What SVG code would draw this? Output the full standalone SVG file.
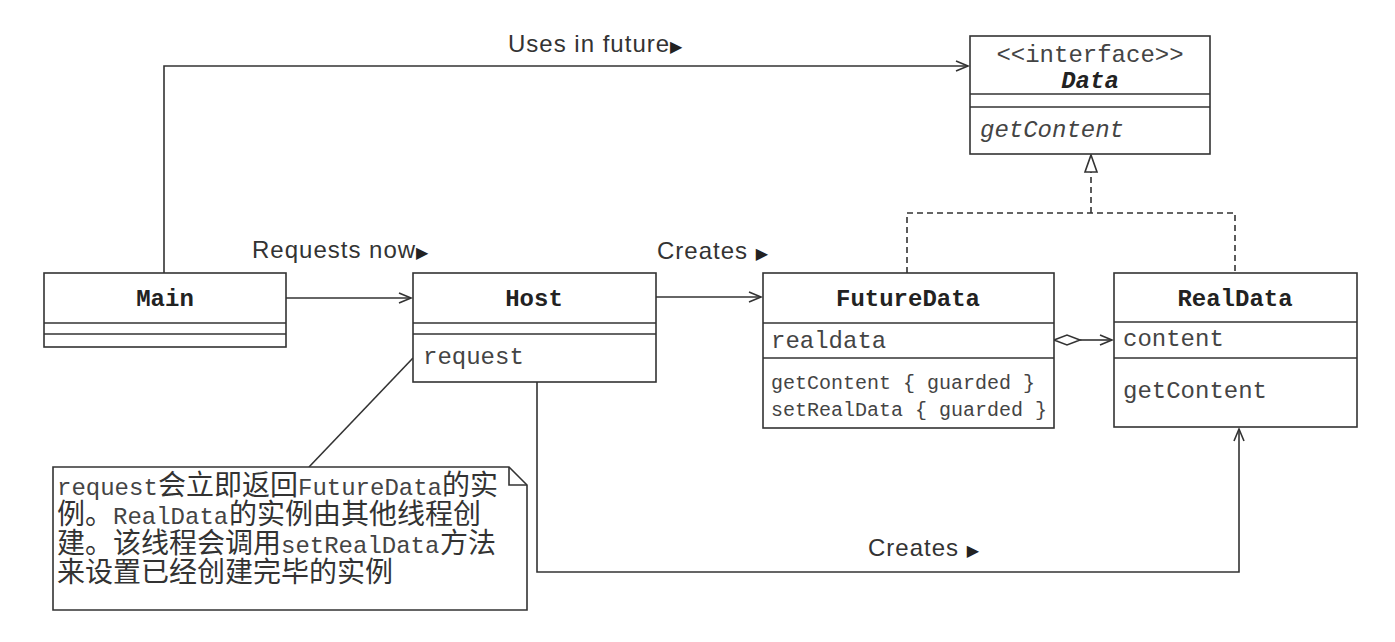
<svg xmlns="http://www.w3.org/2000/svg" width="1395" height="642" viewBox="0 0 1395 642">
<style>
.box{fill:#fff;stroke:#333;stroke-width:1.6}
.ln{fill:none;stroke:#333;stroke-width:1.6}
.dash{fill:none;stroke:#333;stroke-width:1.6;stroke-dasharray:6 4}
.name{font-family:"Liberation Mono",monospace;font-weight:bold;font-size:24px;fill:#222;text-anchor:middle}
.attr{font-family:"Liberation Mono",monospace;font-size:24px;fill:#444}
.small{font-family:"Liberation Mono",monospace;font-size:20px;fill:#444}
.lbl{font-family:"Liberation Sans",Arial,sans-serif;font-size:24px;letter-spacing:1px;fill:#333}
.tri{font-family:"DejaVu Sans",sans-serif;font-size:16px;fill:#222}
.mono{font-family:"Liberation Mono",monospace;font-size:24px;fill:#444}
.cjk{font-family:"Noto Sans CJK SC",sans-serif;font-size:28px;fill:#333}
</style>
<defs>
<marker id="open" markerUnits="userSpaceOnUse" markerWidth="16" markerHeight="14" refX="13" refY="6" orient="auto">
<path d="M1,1 L13,6 L1,11" fill="none" stroke="#333" stroke-width="1.6"/>
</marker>
</defs>
<rect width="1395" height="642" fill="#fff"/>

<g id="connectors">
<polyline class="ln" points="164,273 164,66 968,66" marker-end="url(#open)"/>
<line class="ln" x1="286" y1="298" x2="411" y2="298" marker-end="url(#open)"/>
<line class="ln" x1="656" y1="297" x2="761" y2="297" marker-end="url(#open)"/>
<polyline class="ln" points="537,382 537,572 1239,572 1239,429" marker-end="url(#open)"/>
<path class="ln" d="M1054,340 L1067,335 L1080,340 L1067,345 Z" fill="#fff"/>
<line class="ln" x1="1080" y1="340" x2="1112" y2="340" marker-end="url(#open)"/>
<polyline class="dash" points="907,273 907,213 1235,213 1235,273"/>
<line class="dash" x1="1091" y1="213" x2="1091" y2="172"/>
<path class="ln" d="M1091,155 L1097,172 L1085,172 Z" fill="#fff"/>
<line class="ln" x1="413" y1="358" x2="309" y2="467"/>
<text class="lbl" x="508" y="52">Uses in future<tspan class="tri">▶</tspan></text>
<text class="lbl" x="252" y="258">Requests now<tspan class="tri">▶</tspan></text>
<text class="lbl" x="657" y="259">Creates <tspan class="tri">▶</tspan></text>
<text class="lbl" x="868" y="556">Creates <tspan class="tri">▶</tspan></text>
</g>

<g id="Data">
<rect class="box" x="970" y="36" width="240" height="118"/>
<line class="ln" x1="970" y1="94" x2="1210" y2="94"/>
<line class="ln" x1="970" y1="107" x2="1210" y2="107"/>
<text class="attr" x="1090" y="62" text-anchor="middle">&lt;&lt;interface&gt;&gt;</text>
<text class="name" x="1090" y="88" font-style="italic">Data</text>
<text class="attr" x="980" y="137" font-style="italic">getContent</text>
</g>

<g id="Main">
<rect class="box" x="44" y="273" width="242" height="74"/>
<line class="ln" x1="44" y1="323" x2="286" y2="323"/>
<line class="ln" x1="44" y1="334" x2="286" y2="334"/>
<text class="name" x="165" y="306">Main</text>
</g>

<g id="Host">
<rect class="box" x="413" y="273" width="243" height="109"/>
<line class="ln" x1="413" y1="323" x2="656" y2="323"/>
<line class="ln" x1="413" y1="334" x2="656" y2="334"/>
<text class="name" x="534" y="306">Host</text>
<text class="attr" x="423" y="364">request</text>
</g>

<g id="FutureData">
<rect class="box" x="763" y="273" width="291" height="155"/>
<line class="ln" x1="763" y1="323" x2="1054" y2="323"/>
<line class="ln" x1="763" y1="358" x2="1054" y2="358"/>
<text class="name" x="908" y="306">FutureData</text>
<text class="attr" x="771" y="348">realdata</text>
<text class="small" x="771" y="389">getContent { guarded }</text>
<text class="small" x="771" y="416">setRealData { guarded }</text>
</g>

<g id="RealData">
<rect class="box" x="1114" y="273" width="243" height="154"/>
<line class="ln" x1="1114" y1="322" x2="1357" y2="322"/>
<line class="ln" x1="1114" y1="358" x2="1357" y2="358"/>
<text class="name" x="1235" y="306">RealData</text>
<text class="attr" x="1123" y="346">content</text>
<text class="attr" x="1123" y="398">getContent</text>
</g>

<g id="note">
<path class="box" d="M53,467 L509,467 L527,485 L527,610 L53,610 Z"/>
<path class="ln" d="M509,467 L509,485 L527,485"/>
<text class="mono" x="57" y="495">request</text>
<text class="cjk" x="158" y="495">会立即返回</text>
<text class="mono" x="298" y="495">FutureData</text>
<text class="cjk" x="442" y="495">的实</text>
<text class="cjk" x="57" y="524">例。</text>
<text class="mono" x="113" y="524">RealData</text>
<text class="cjk" x="229" y="524">的实例由其他线程创</text>
<text class="cjk" x="57" y="553">建。该线程会调用</text>
<text class="mono" x="281" y="553">setRealData</text>
<text class="cjk" x="440" y="553">方法</text>
<text class="cjk" x="57" y="582">来设置已经创建完毕的实例</text>
</g>
</svg>
